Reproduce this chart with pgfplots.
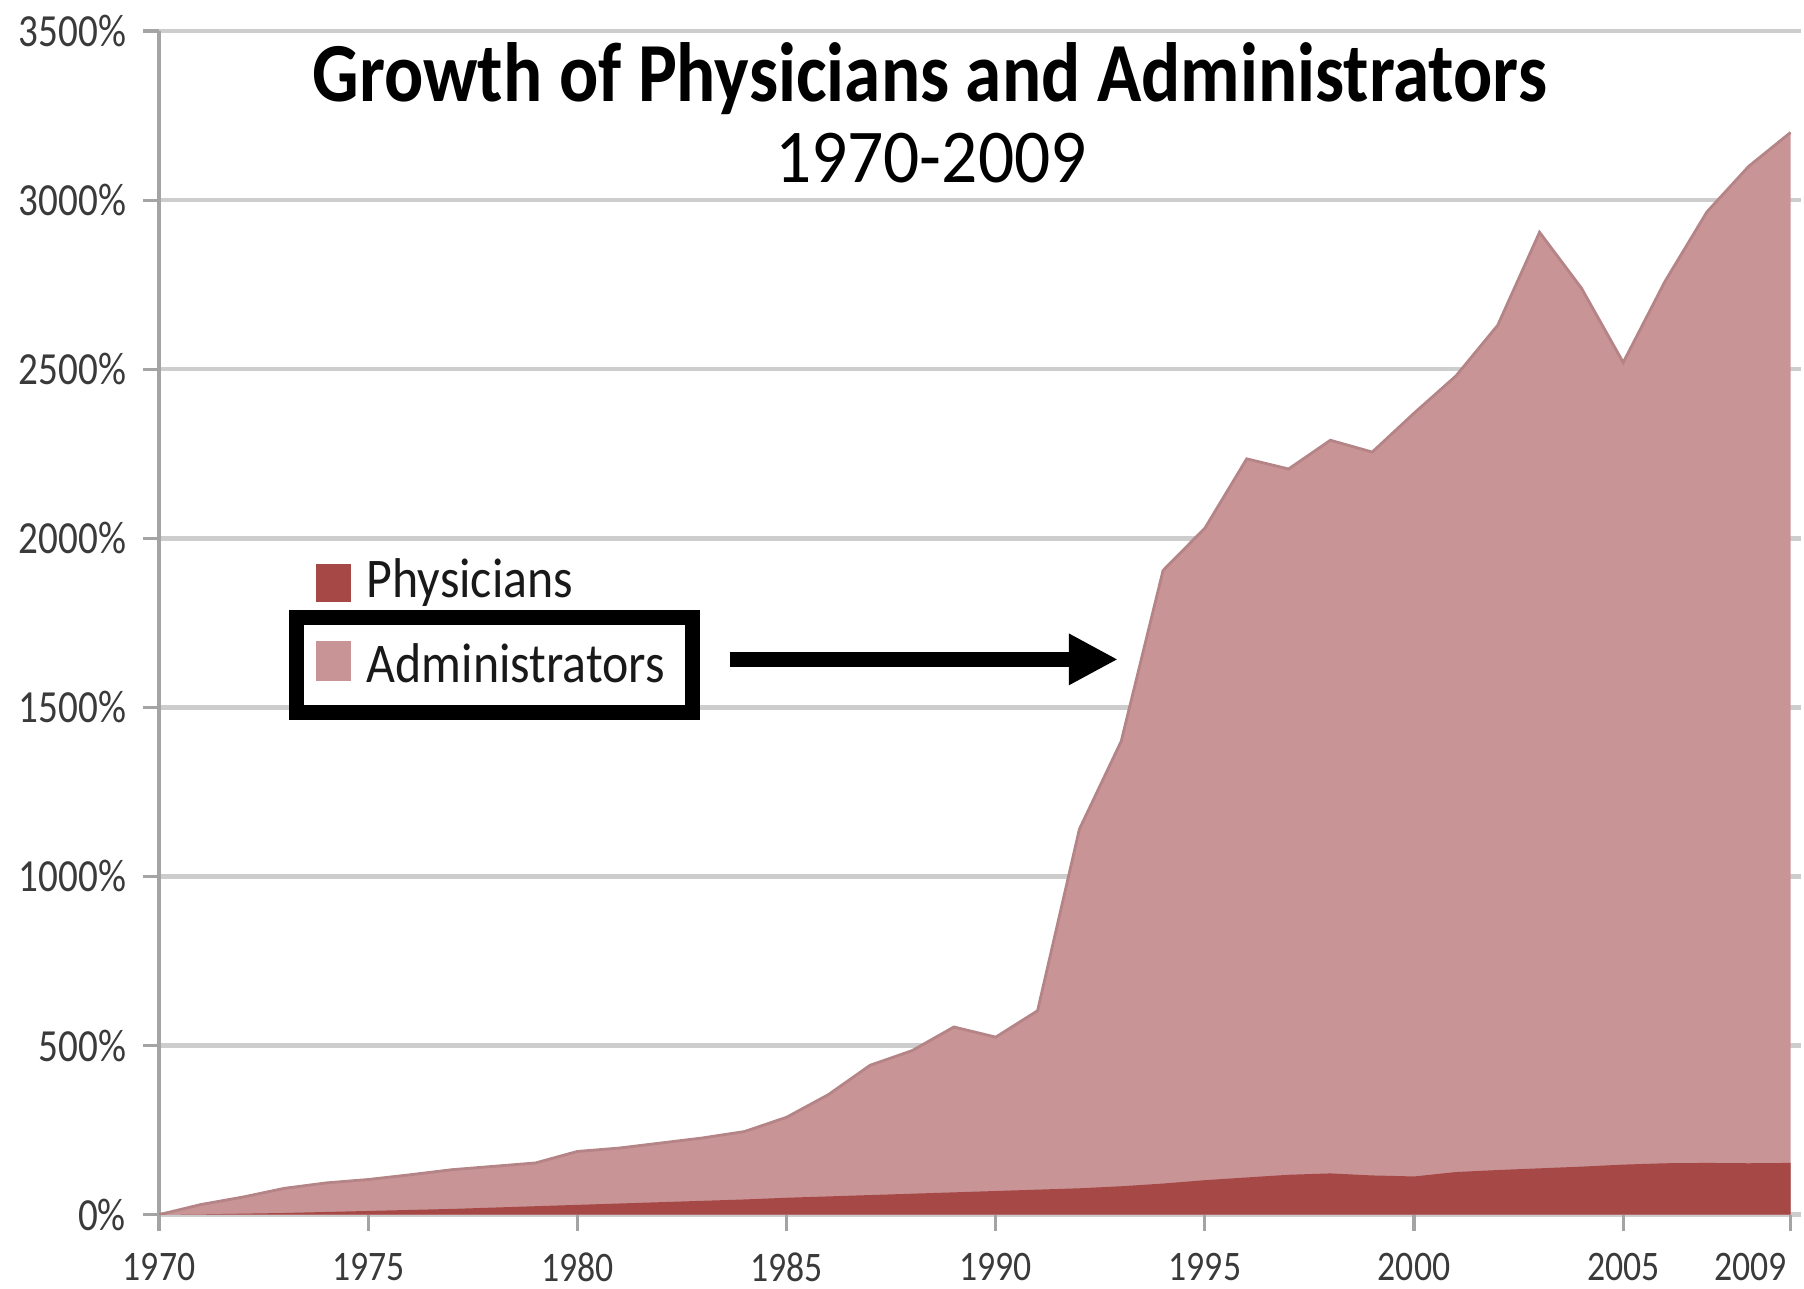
\documentclass[border=0pt]{standalone}
\usepackage{fontspec}
\setmainfont{Carlito}
\usepackage{pgfplots}
\usepackage{pgfplotstable}
\pgfplotsset{compat=1.18}
\usetikzlibrary{arrows.meta}

\definecolor{admin}{HTML}{C99496}
\definecolor{adminedge}{HTML}{B48486}
\definecolor{phys}{HTML}{A64846}
\definecolor{gridc}{HTML}{CDCDCD}
\definecolor{axisc}{HTML}{A4A4A4}
\definecolor{tickc}{HTML}{3A3A3A}

% growth since 1970, in percent
\pgfplotstableread{
year phys admin
1970 0 0
1971 1 30
1972 3 52
1973 5 78
1974 8 94
1975 11 104
1976 14 118
1977 17 133
1978 21 143
1979 25 153
1980 29 187
1981 33 197
1982 37 212
1983 41 227
1984 45 246
1985 50 288
1986 54 355
1987 58 442
1988 62 485
1989 66 555
1990 70 525
1991 74 603
1992 78 1140
1993 84 1400
1994 92 1905
1995 102 2030
1996 110 2235
1997 118 2205
1998 122 2290
1999 116 2255
2000 113 2370
2001 126 2480
2002 132 2630
2003 137 2905
2004 142 2740
2005 148 2520
2006 152 2760
2007 153 2965
2008 152 3100
2009 153 3200
}\growth

\begin{document}
\begin{tikzpicture}
\path[use as bounding box] (-39.75pt,-18.5pt) rectangle (411pt,303.5pt);
\begin{axis}[
    at={(0,0)}, anchor=south west,
    scale only axis,
    width=410.25pt, height=295.75pt,
    xmin=1970, xmax=2009.25,
    ymin=0, ymax=3500,
    xtick={1970,1975,1980,1985,1990,1995,2000,2005},
    extra x ticks={2009},
    extra x tick style={grid=none, xticklabel style={anchor=north east, xshift=2.5pt}},
    ytick={0,500,1000,1500,2000,2500,3000,3500},
    yticklabel={\pgfmathprintnumber{\tick}\%},
    /pgf/number format/1000 sep={},
    /pgf/number format/assume math mode=true,
    axis lines*=left,
    axis line style={-, draw=axisc, line width=1pt},
    x axis line style={draw=none},
    tick align=outside,
    major tick length=4pt,
    tick style={axisc, line width=0.8pt},
    xtick pos=bottom, ytick pos=left,
    ymajorgrids=true,
    grid style={gridc, line width=1.1pt},
    x tick label style={font=\fontsize{10.5}{12}\selectfont, text=tickc, xscale=0.85, yshift=-2pt},
    y tick label style={font=\fontsize{11.5}{13}\selectfont, text=tickc, xscale=0.85, xshift=-1.5pt},
]
\addplot[fill=admin, draw=none] table[x=year, y=admin]{\growth} \closedcycle;
\addplot[draw=adminedge, line width=0.7pt] table[x=year, y=admin]{\growth};
\addplot[fill=phys, draw=none] table[x=year, y=phys]{\growth} \closedcycle;

\node[anchor=base, xscale=0.87, font=\bfseries\fontsize{21}{25}\selectfont]
    at (axis cs:1988.42,3293) {Growth of Physicians and Administrators};
\node[anchor=base, xscale=0.94, font=\fontsize{19}{23}\selectfont]
    at (axis cs:1988.45,3053) {1970-2009};

% legend
\fill[phys] (axis cs:1973.76,1923) rectangle (axis cs:1974.59,1811);
\fill[admin] (axis cs:1973.76,1695) rectangle (axis cs:1974.59,1577);
\node[anchor=base west, inner sep=0pt, xscale=0.89, font=\fontsize{14}{16}\selectfont, text=black!90]
    at (axis cs:1974.95,1825) {Physicians};
\node[anchor=base west, inner sep=0pt, xscale=0.89, font=\fontsize{14}{16}\selectfont, text=black!90]
    at (axis cs:1974.95,1574) {Administrators};
\draw[black, line width=3.75pt] (axis cs:1973.29,1765) rectangle (axis cs:1982.74,1484);
\draw[black, line width=3.75pt, -{Triangle[length=12.25pt,width=12pt]}]
    (axis cs:1983.64,1642) -- (axis cs:1992.92,1642);
\end{axis}
\end{tikzpicture}
\end{document}
